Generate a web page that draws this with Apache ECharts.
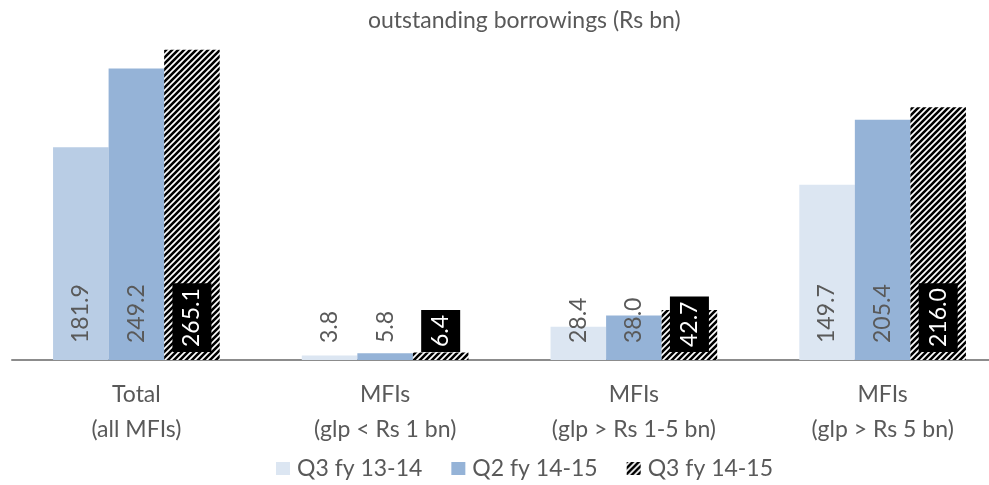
<!DOCTYPE html>
<html>
<head>
<meta charset="utf-8">
<script src="https://cdn.jsdelivr.net/npm/echarts@6/dist/echarts.min.js"></script>
<style>
  html, body { margin: 0; padding: 0; background: #fff; }
  #chart { width: 989px; height: 485px; }
</style>
</head>
<body>
<div id="chart"></div>
<script>
// Outstanding borrowings of MFIs by size class (Rs bn)
const categories = ['Total\n(all MFIs)', 'MFIs\n(glp < Rs 1 bn)', 'MFIs\n(glp > Rs 1-5 bn)', 'MFIs\n(glp > Rs 5 bn)'];
const seriesNames = ['Q3 fy 13-14', 'Q2 fy 14-15', 'Q3 fy 14-15'];
const q3fy1314 = [181.9, 3.8, 28.4, 149.7];
const q2fy1415 = [249.2, 5.8, 38.0, 205.4];
const q3fy1415 = [265.1, 6.4, 42.7, 216.0];

const FONT = 'Lato, "Open Sans", sans-serif';
const GREY = '#595959';
const FS = 23;

// Wide upward diagonal hatch used for the latest quarter
function hatchPattern() {
  const s = 6;
  const c = document.createElement('canvas');
  c.width = s; c.height = s;
  const g = c.getContext('2d');
  g.fillStyle = '#ffffff';
  g.fillRect(0, 0, s, s);
  g.strokeStyle = '#000000';
  g.lineWidth = 2.6;
  g.beginPath();
  g.moveTo(-1, s + 1); g.lineTo(s + 1, -1);
  g.moveTo(-1, 1); g.lineTo(1, -1);
  g.moveTo(s - 1, s + 1); g.lineTo(s + 1, s - 1);
  g.stroke();
  return { image: c, repeat: 'repeat' };
}

const greyLabel = {
  show: true,
  position: 'insideBottom',
  rotate: 90,
  align: 'left',
  verticalAlign: 'middle',
  distance: 17,
  color: GREY,
  fontFamily: FONT,
  fontSize: FS,
  formatter: p => p.value.toFixed(1)
};

const chart = echarts.init(document.getElementById('chart'), null, { renderer: 'canvas' });
chart.setOption({
  animation: false,
  backgroundColor: '#ffffff',
  title: {
    text: 'outstanding borrowings (Rs bn)',
    left: 363,
    top: 4,
    textStyle: { color: GREY, fontFamily: FONT, fontSize: FS, fontWeight: 'normal' }
  },
  legend: {
    top: 452,
    left: 271,
    itemWidth: 14,
    itemHeight: 13,
    itemGap: 29,
    icon: 'rect',
    textStyle: { color: GREY, fontFamily: FONT, fontSize: FS, padding: [0, 0, 0, 2] },
    data: seriesNames
  },
  grid: {
    left: 12, width: 995, top: 9, height: 351,
    containLabel: false,
    outerBoundsMode: 'none'
  },
  xAxis: {
    type: 'category',
    data: categories,
    axisLine: { show: true, lineStyle: { color: '#8c8c8c', width: 2 } },
    axisTick: { show: false },
    axisLabel: { color: GREY, fontFamily: FONT, fontSize: FS, lineHeight: 35, margin: 17 }
  },
  yAxis: {
    type: 'value',
    min: 0,
    max: 300,
    show: false,
    splitLine: { show: false }
  },
  series: [
    {
      name: seriesNames[0],
      type: 'bar',
      barGap: '0%',
      barCategoryGap: '33%',
      itemStyle: { color: '#dce6f2' },
      data: q3fy1314.map((v, i) => i === 0 ? { value: v, itemStyle: { color: '#b9cde5' } } : v),
      label: Object.assign({}, greyLabel)
    },
    {
      name: seriesNames[1],
      type: 'bar',
      itemStyle: { color: '#95b3d7' },
      data: q2fy1415,
      label: Object.assign({}, greyLabel)
    },
    {
      name: seriesNames[2],
      type: 'bar',
      itemStyle: { color: hatchPattern() },
      data: q3fy1415,
      label: Object.assign({}, greyLabel, {
        color: '#ffffff',
        backgroundColor: '#000000',
        padding: [8, 5],
        distance: 8
      })
    }
  ]
});
</script>
</body>
</html>
